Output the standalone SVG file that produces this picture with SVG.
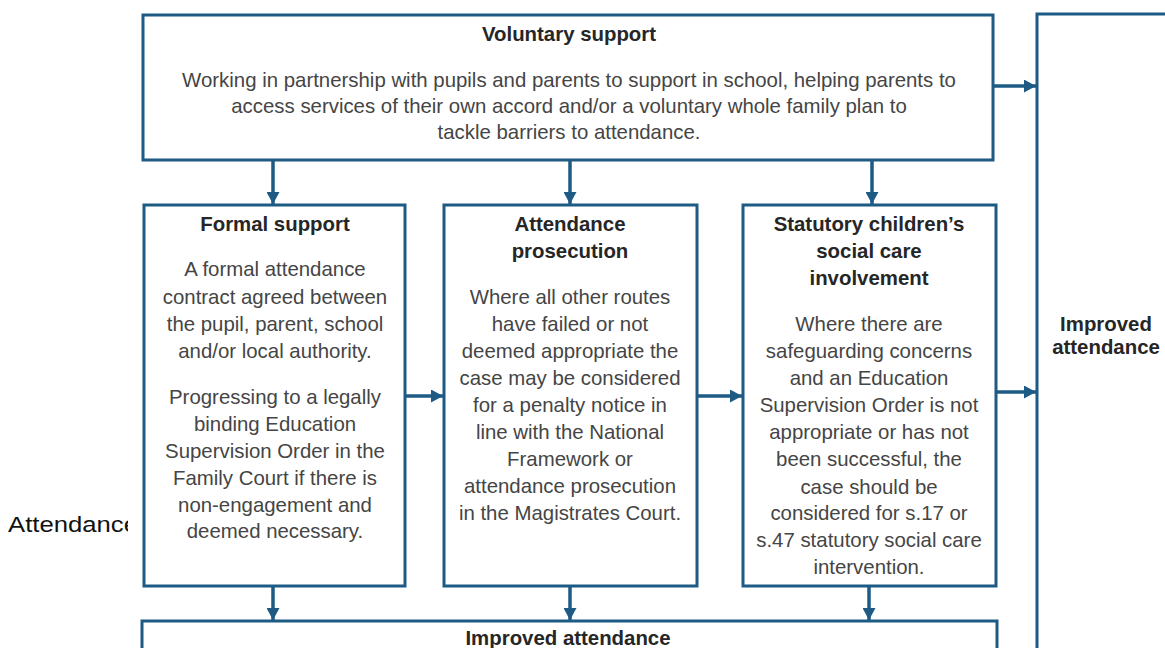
<svg xmlns="http://www.w3.org/2000/svg" width="1165" height="648" viewBox="0 0 1165 648">
<defs>
<style>
.box{fill:#fff;stroke:#1d5a84;stroke-width:3}
.conn{stroke:#1d5a84;stroke-width:3.5;fill:none}
.t{font-family:"Liberation Sans",Arial,sans-serif;font-size:20.4px;text-anchor:middle}
.b{fill:#454545}
.h{font-weight:bold;fill:#262626}
</style>
<marker id="ah" markerUnits="userSpaceOnUse" markerWidth="13" markerHeight="13" refX="12" refY="6.5" orient="auto">
<path d="M0,0 L12,6.5 L0,13 z" fill="#1d5a84"/>
</marker>
<clipPath id="clipL"><rect x="0" y="490" width="128" height="60"/></clipPath>
</defs>
<rect width="1165" height="648" fill="#fff"/>

<text x="8" y="532" clip-path="url(#clipL)" font-family="'Liberation Sans',Arial,sans-serif" font-size="22" fill="#111" textLength="130" lengthAdjust="spacingAndGlyphs">Attendance</text>

<g id="right-improved">
<rect class="box" x="1037" y="14" width="200" height="700"/>
<text class="t h" x="1106" y="331">Improved</text>
<text class="t h" x="1106" y="354">attendance</text>
</g>

<g id="voluntary">
<rect class="box" x="143" y="15" width="850" height="145"/>
<text class="t h" x="569" y="41">Voluntary support</text>
<text class="t b" x="569" y="87">Working in partnership with pupils and parents to support in school, helping parents to</text>
<text class="t b" x="569" y="113">access services of their own accord and/or a voluntary whole family plan to</text>
<text class="t b" x="569" y="139">tackle barriers to attendance.</text>
</g>

<g id="formal">
<rect class="box" x="144" y="205" width="261" height="381"/>
<text class="t h" x="275" y="231">Formal support</text>
<text class="t b" x="275" y="276">A formal attendance</text>
<text class="t b" x="275" y="304">contract agreed between</text>
<text class="t b" x="275" y="331">the pupil, parent, school</text>
<text class="t b" x="275" y="358">and/or local authority.</text>
<text class="t b" x="275" y="404">Progressing to a legally</text>
<text class="t b" x="275" y="431">binding Education</text>
<text class="t b" x="275" y="458">Supervision Order in the</text>
<text class="t b" x="275" y="485">Family Court if there is</text>
<text class="t b" x="275" y="512">non-engagement and</text>
<text class="t b" x="275" y="538">deemed necessary.</text>
</g>

<g id="prosecution">
<rect class="box" x="444" y="205" width="253" height="381"/>
<text class="t h" x="570" y="231">Attendance</text>
<text class="t h" x="570" y="258">prosecution</text>
<text class="t b" x="570" y="304">Where all other routes</text>
<text class="t b" x="570" y="331">have failed or not</text>
<text class="t b" x="570" y="358">deemed appropriate the</text>
<text class="t b" x="570" y="385">case may be considered</text>
<text class="t b" x="570" y="412">for a penalty notice in</text>
<text class="t b" x="570" y="439">line with the National</text>
<text class="t b" x="570" y="466">Framework or</text>
<text class="t b" x="570" y="493">attendance prosecution</text>
<text class="t b" x="570" y="520">in the Magistrates Court.</text>
</g>

<g id="statutory">
<rect class="box" x="743" y="205" width="253" height="381"/>
<text class="t h" x="869" y="231">Statutory children’s</text>
<text class="t h" x="869" y="258">social care</text>
<text class="t h" x="869" y="285">involvement</text>
<text class="t b" x="869" y="331">Where there are</text>
<text class="t b" x="869" y="358">safeguarding concerns</text>
<text class="t b" x="869" y="385">and an Education</text>
<text class="t b" x="869" y="412">Supervision Order is not</text>
<text class="t b" x="869" y="439">appropriate or has not</text>
<text class="t b" x="869" y="466">been successful, the</text>
<text class="t b" x="869" y="494">case should be</text>
<text class="t b" x="869" y="520">considered for s.17 or</text>
<text class="t b" x="869" y="547">s.47 statutory social care</text>
<text class="t b" x="869" y="574">intervention.</text>
</g>

<g id="bottom-improved">
<rect class="box" x="142" y="621" width="855" height="100"/>
<text class="t h" x="568" y="645">Improved attendance</text>
</g>

<g id="connectors">
<line class="conn" x1="273" y1="161" x2="273" y2="204" marker-end="url(#ah)"/>
<line class="conn" x1="570" y1="161" x2="570" y2="204" marker-end="url(#ah)"/>
<line class="conn" x1="872" y1="161" x2="872" y2="204" marker-end="url(#ah)"/>
<line class="conn" x1="273" y1="587" x2="273" y2="620" marker-end="url(#ah)"/>
<line class="conn" x1="570" y1="587" x2="570" y2="620" marker-end="url(#ah)"/>
<line class="conn" x1="869" y1="587" x2="869" y2="620" marker-end="url(#ah)"/>
<line class="conn" x1="406" y1="396" x2="443" y2="396" marker-end="url(#ah)"/>
<line class="conn" x1="698" y1="396" x2="742" y2="396" marker-end="url(#ah)"/>
<line class="conn" x1="994" y1="86" x2="1036" y2="86" marker-end="url(#ah)"/>
<line class="conn" x1="997" y1="392" x2="1036" y2="392" marker-end="url(#ah)"/>
</g>
</svg>
